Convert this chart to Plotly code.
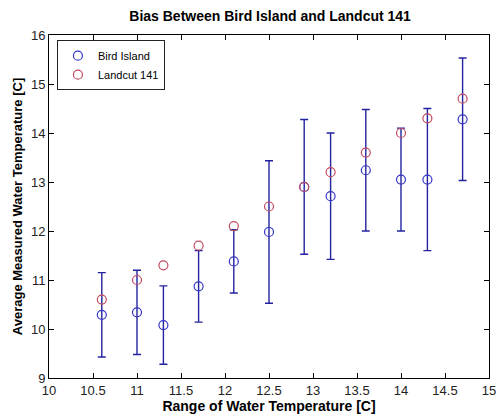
import plotly.graph_objects as go

x_range = [10.6, 11.0, 11.3, 11.7, 12.1, 12.5, 12.9, 13.2, 13.6, 14.0, 14.3, 14.7]
bird_island = [10.29, 10.34, 10.08, 10.87, 11.38, 11.98, 12.9, 12.71, 13.24, 13.05, 13.05, 14.28]
bird_err = [0.86, 0.86, 0.80, 0.73, 0.645, 1.455, 1.375, 1.29, 1.24, 1.05, 1.45, 1.25]
landcut = [10.6, 11.0, 11.3, 11.7, 12.1, 12.5, 12.9, 13.2, 13.6, 14.0, 14.3, 14.7]

font = "Liberation Sans, Arial, sans-serif"

fig = go.Figure()
fig.add_trace(go.Scatter(
    x=x_range, y=bird_island, mode="markers", showlegend=False,
    marker=dict(size=1, color="rgba(0,0,0,0)"),
    error_y=dict(type="data", array=bird_err, visible=True,
                 color="#2323a0", thickness=1.4, width=4),
    hoverinfo="skip",
))
fig.add_trace(go.Scatter(
    x=x_range, y=bird_island, mode="markers", name="Bird Island",
    marker=dict(symbol="circle-open", size=9, color="#3535c8", line=dict(width=1.2)),
))
fig.add_trace(go.Scatter(
    x=x_range, y=landcut, mode="markers", name="Landcut 141",
    marker=dict(symbol="circle-open", size=9, color="#c24a5e", line=dict(width=1.2)),
))

axis_common = dict(
    showgrid=False, zeroline=False, showline=True, linecolor="black", linewidth=1,
    mirror="allticks", ticks="inside", ticklen=5, tickcolor="black",
    tickfont=dict(family=font, size=13, color="#222"),
    ticklabeloverflow="allow",
)

fig.update_layout(
    width=503, height=418,
    margin=dict(l=49, r=7, t=35, b=40),
    paper_bgcolor="white", plot_bgcolor="white",
    title=dict(text="<b>Bias Between Bird Island and Landcut 141</b>",
               x=0.537, xanchor="center", y=0.962, yanchor="middle",
               font=dict(family=font, size=14, color="black")),
    xaxis=dict(range=[10, 15], dtick=0.5, tick0=10,
               title=dict(text="<b>Range of Water Temperature [C]</b>", standoff=1,
                          font=dict(family=font, size=14, color="black")),
               **axis_common),
    yaxis=dict(range=[9, 16], dtick=1, tick0=9,
               title=dict(text="<b>Average Measured Water Temperature [C]</b>", standoff=5,
                          font=dict(family=font, size=13, color="black")),
               **axis_common),
    legend=dict(x=0.018, y=0.985, xanchor="left", yanchor="top",
                bgcolor="white", bordercolor="#222", borderwidth=1,
                font=dict(family=font, size=11, color="black"),
                itemwidth=30, tracegroupgap=0),
    showlegend=True,
)

fig.write_html("out.html")
